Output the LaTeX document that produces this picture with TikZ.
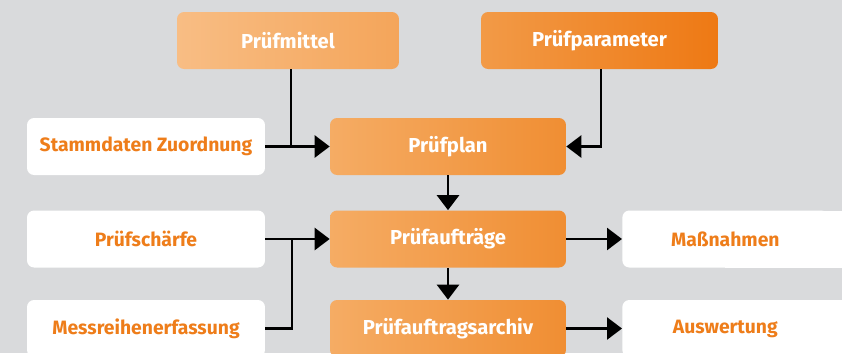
\documentclass[tikz,border=0pt]{standalone}
\usepackage{fontspec}
\setmainfont{Fira Sans}
\usepackage{tikz}
\usetikzlibrary{positioning, arrows.meta}

\definecolor{bggray}{HTML}{D9DADC}
\definecolor{txtorange}{HTML}{EE7D1A}
\definecolor{pmleft}{HTML}{F8BD84}
\definecolor{pmright}{HTML}{F4A55A}
\definecolor{ppleft}{HTML}{F29A47}
\definecolor{ppright}{HTML}{EE7914}
\definecolor{midleft}{HTML}{F5AC64}
\definecolor{midright}{HTML}{F08E33}

\tikzset{
  box/.style={rounded corners=0.14cm, minimum height=1.14cm, inner sep=0pt},
  orangebox/.style 2 args={box, minimum width=4.72cm, left color=#1, right color=#2,
    text=white, font=\bfseries\fontsize{11.5}{14}\selectfont},
  whitebox/.style={box, fill=white, minimum width=4.76cm, text=txtorange,
    font=\bfseries\fontsize{11}{13}\selectfont},
  conn/.style={line width=1.5pt},
  arr/.style={conn, -{Triangle[length=0.3cm,width=0.44cm]}}
}

\begin{document}
\begin{tikzpicture}[x=0.02cm,y=-0.02cm]
\useasboundingbox (0,0) rectangle (842,353);
\clip (0,0) rectangle (842,353);
\fill[bggray] (0,0) rectangle (842,353);

% top row
\node[orangebox={pmleft}{pmright}, minimum width=4.44cm] (pm) at (288,40.5) {Prüfmittel};
\node[orangebox={ppleft}{ppright}, minimum width=4.74cm] (pp) at (599.5,40.5) {Prüfparameter};

% middle column
\node[orangebox={midleft}{midright}] (plan) at (448,146.5) {Prüfplan};
\node[orangebox={midleft}{midright}] (auf) at (448,239) {Prüfaufträge};
\node[orangebox={midleft}{midright}] (archiv) at (448,328.5) {Prüfauftragsarchiv};

% left column
\node[whitebox] (stamm) at (146,146.5) {Stammdaten Zuordnung};
\node[whitebox] (schaerfe) at (146,239) {Prüfschärfe};
\node[whitebox] (mess) at (146,328.5) {Messreihenerfassung};

% right column, running off the edge
\fill[white] (725,210.5) rectangle (860,267.5);
\fill[white] (725,300) rectangle (860,357);
\node[whitebox, minimum width=4.12cm, anchor=west] (massn) at (622,239) {Maßnahmen};
\node[whitebox, minimum width=4.12cm, anchor=west] (ausw) at (622,328.5) {Auswertung};

% connectors
\coordinate (j1) at (291,146.5);
\coordinate (j2) at (601,146.5);
\coordinate (j3) at (292,239);
\draw[conn] (pm.south -| j1) -- (j1);
\draw[arr] (stamm) -- (plan);
\draw[arr] (pp.south -| j2) -- (j2) -- (plan.east);
\draw[arr] (plan) -- (auf);
\draw[arr] (schaerfe) -- (auf);
\draw[conn] (mess.east) -| (j3);
\draw[arr] (auf) -- (massn);
\draw[arr] (auf) -- (archiv);
\draw[arr] (archiv) -- (ausw);
\end{tikzpicture}
\end{document}
